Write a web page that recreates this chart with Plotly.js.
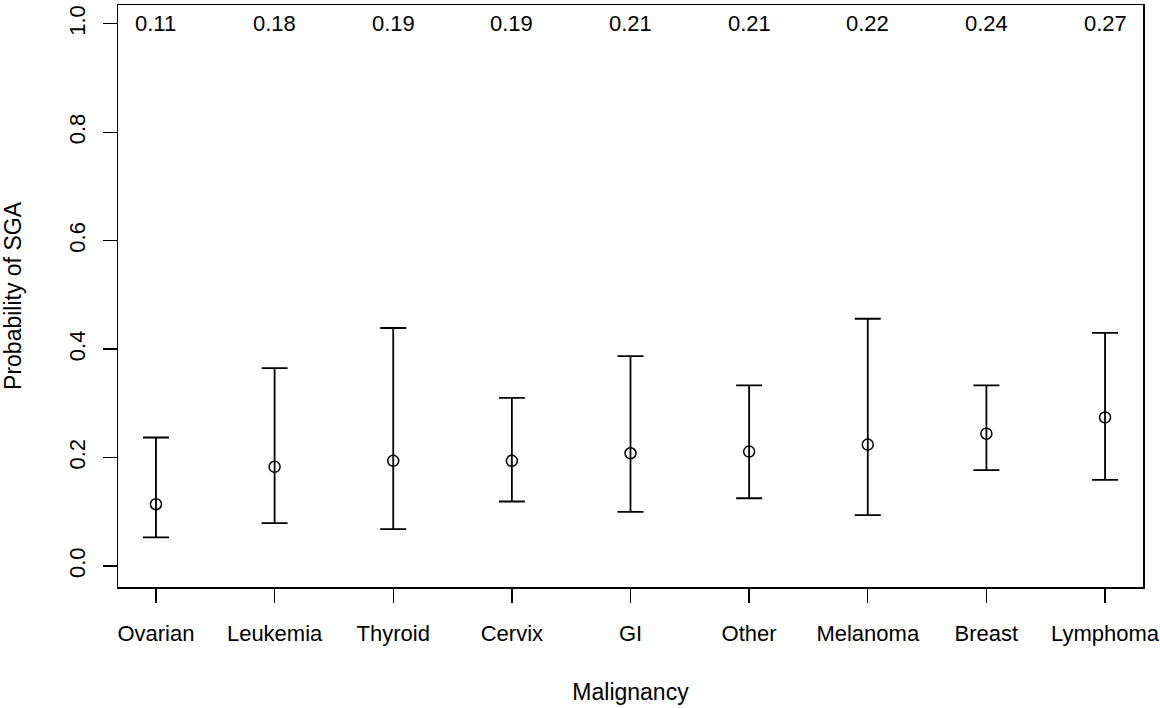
<!DOCTYPE html>
<html>
<head>
<meta charset="utf-8">
<script src="https://cdn.plot.ly/plotly-3.0.1.min.js"></script>
<style>html,body{margin:0;padding:0;background:#fff;}#chart{width:1160px;height:708px;}</style>
</head>
<body>
<div id="chart"></div>
<script>
const categories = ["Ovarian","Leukemia","Thyroid","Cervix","GI","Other","Melanoma","Breast","Lymphoma"];
const probability = [0.114, 0.183, 0.194, 0.194, 0.208, 0.211, 0.224, 0.244, 0.274];
const lowerCI = [0.053, 0.079, 0.068, 0.119, 0.100, 0.125, 0.094, 0.177, 0.159];
const upperCI = [0.237, 0.365, 0.439, 0.310, 0.387, 0.333, 0.456, 0.333, 0.430];
const topLabels = ["0.11","0.18","0.19","0.19","0.21","0.21","0.22","0.24","0.27"];
const yTicks = [0, 0.2, 0.4, 0.6, 0.8, 1.0];
const yTickText = ["0.0","0.2","0.4","0.6","0.8","1.0"];

const xpos = categories.map((c, i) => i + 1);
const fam = "Liberation Sans, Arial, sans-serif";
const labelFont = {family: fam, size: 22, color: "#000"};
const titleFont = {family: fam, size: 23, color: "#000"};

const trace = {
  type: "scatter",
  mode: "markers",
  x: xpos,
  y: probability,
  marker: {symbol: "circle-open", size: 11, color: "#000", line: {width: 1.5, color: "#000"}},
  error_y: {
    type: "data",
    symmetric: false,
    array: upperCI.map((u, i) => u - probability[i]),
    arrayminus: lowerCI.map((l, i) => probability[i] - l),
    color: "#000",
    thickness: 1.8,
    width: 13
  },
  hoverinfo: "skip",
  showlegend: false
};

const annotations = topLabels.map((t, i) => ({
  x: xpos[i], y: 1.0, xref: "x", yref: "y",
  text: t, showarrow: false, xanchor: "center", yanchor: "middle",
  font: labelFont
}));

const layout = {
  width: 1160, height: 708,
  margin: {l: 118, r: 17, t: 5, b: 121},
  paper_bgcolor: "#fff", plot_bgcolor: "#fff",
  font: labelFont,
  showlegend: false,
  xaxis: {
    range: [0.68, 9.32],
    tickmode: "array", tickvals: xpos, ticktext: categories,
    ticks: "outside", ticklen: 14, tickwidth: 1.3, tickcolor: "#000",
    showline: true, linecolor: "#000", linewidth: 1.5, mirror: true,
    showgrid: false, zeroline: false,
    ticklabelstandoff: 12,
    tickfont: labelFont,
    title: {text: "Malignancy", font: titleFont, standoff: 39}
  },
  yaxis: {
    range: [-0.0387, 1.0347],
    tickmode: "array", tickvals: yTicks, ticktext: yTickText,
    tickangle: -90,
    ticks: "outside", ticklen: 14, tickwidth: 1.3, tickcolor: "#000",
    showline: true, linecolor: "#000", linewidth: 1.5, mirror: true,
    showgrid: false, zeroline: false,
    ticklabelstandoff: 9,
    tickfont: labelFont,
    title: {text: "Probability of SGA", font: titleFont, standoff: 36}
  },
  annotations: annotations
};

Plotly.newPlot("chart", [trace], layout, {displayModeBar: false, staticPlot: true});
</script>
</body>
</html>
